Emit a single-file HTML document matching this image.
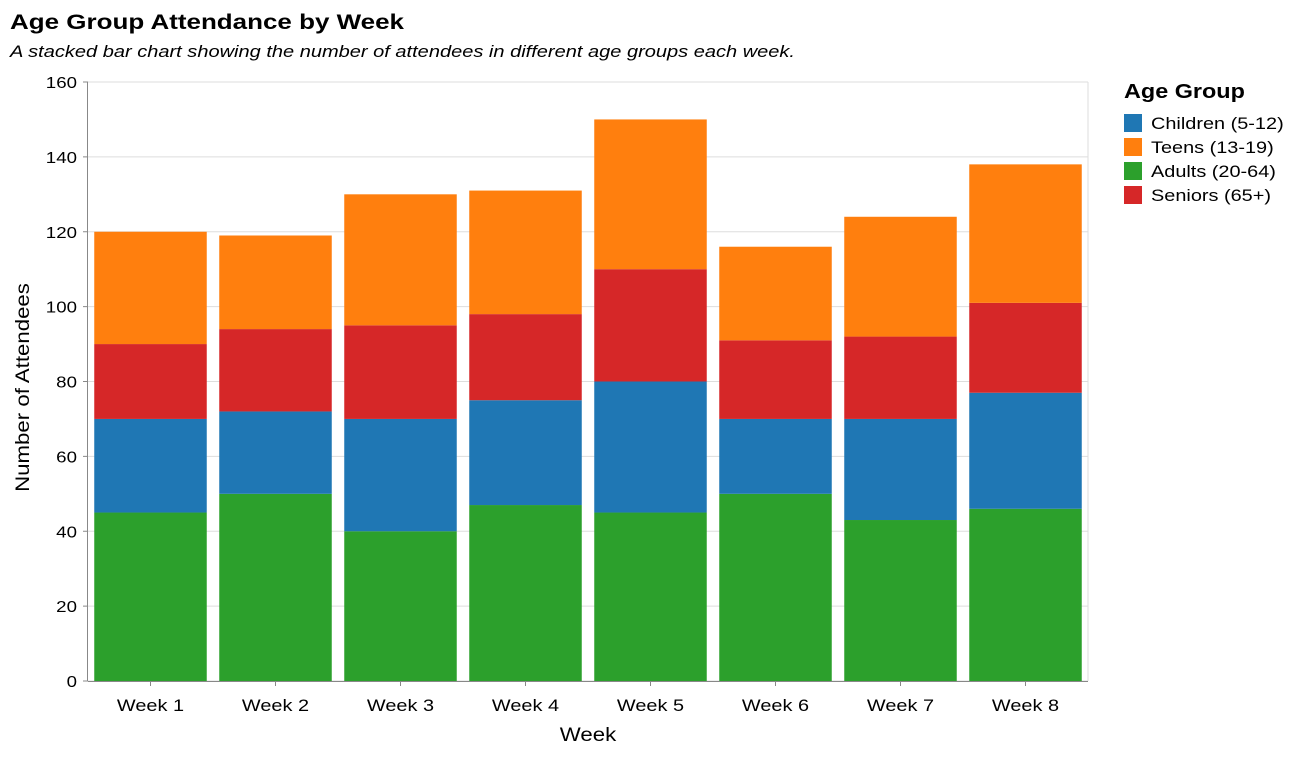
<!DOCTYPE html>
<html><head><meta charset="utf-8"><style>
body{margin:0;background:#fff;font-family:"Liberation Sans",sans-serif;}
</style></head><body>
<svg id="chart" width="1296" height="754" xmlns="http://www.w3.org/2000/svg" font-family="Liberation Sans, sans-serif">
<text x="10" y="29" font-size="21" font-weight="bold" fill="#000" data-fixed="394">Age Group Attendance by Week</text>
<text x="10" y="57" font-size="16.5" font-style="italic" fill="#000" data-fixed="785">A stacked bar chart showing the number of attendees in different age groups each week.</text>
<g id="grid"></g><g id="bars"></g><g id="axes"></g>
<g>
<text x="1124" y="98" font-size="20" font-weight="bold">Age Group</text>
<g id="legend"></g></g>
</svg>
<script>
const weeks=["Week 1","Week 2","Week 3","Week 4","Week 5","Week 6","Week 7","Week 8"];
const adults=[45,50,40,47,45,50,43,46];
const children=[25,22,30,28,35,20,27,31];
const seniors=[20,22,25,23,30,21,22,24];
const teens=[30,25,35,33,40,25,32,37];
const yTicks=[0,20,40,60,80,100,120,140,160];
const groups=["Children (5-12)","Teens (13-19)","Adults (20-64)","Seniors (65+)"];
const colors={"Children (5-12)":"#1f77b4","Teens (13-19)":"#ff7f0e","Adults (20-64)":"#2ca02c","Seniors (65+)":"#d62728"};
const NS="http://www.w3.org/2000/svg";
const X0=88,X1=1088,Y0=681,Y1=82,YMAX=160;
const band=(X1-X0)/weeks.length;
const y=v=>Y0-(v/YMAX)*(Y0-Y1);
const xb=i=>X0+i*band+band*0.05;
function mk(t,a,p){const e=document.createElementNS(NS,t);for(const k in a)e.setAttribute(k,a[k]);p.appendChild(e);return e;}
const grid=document.getElementById('grid'),bars=document.getElementById('bars'),axes=document.getElementById('axes'),leg=document.getElementById('legend');
yTicks.forEach(t=>{
 const l=mk('line',{x1:X0,x2:X1,y1:y(t),y2:y(t),stroke:'#ddd'},grid);
 
 
 const tk=mk('line',{x1:X0-5,x2:X0,y1:y(t),y2:y(t),stroke:'#888'},axes);
 
 
 const tx=mk('text',{x:X0-11,y:y(t)+6,'text-anchor':'end','font-size':16,fill:'#000'},axes);
 tx.textContent=t;
 
 
});
mk('line',{x1:X1,x2:X1,y1:Y1,y2:Y0,stroke:'#ddd'},grid);
const series=[["Adults (20-64)",adults],["Children (5-12)",children],["Seniors (65+)",seniors],["Teens (13-19)",teens]];
weeks.forEach((w,i)=>{
 let base=0;
 series.forEach(([g,arr])=>{
  const v=arr[i];
  const r=mk('rect',{x:xb(i),width:band*0.9,y:y(base+v),height:y(base)-y(base+v),fill:colors[g]},bars);
  
  
  base+=v;
 });
 const c=X0+i*band+band/2;
 const tk=mk('line',{x1:c,x2:c,y1:Y0,y2:Y0+5,stroke:'#888'},axes);
 
 
 const tx=mk('text',{x:c,y:Y0+30,'text-anchor':'middle','font-size':17},axes);
 tx.textContent=w;
 
 
});
const xa=mk('line',{x1:X0,x2:X1,y1:Y0+0.5,y2:Y0+0.5,stroke:'#888'},axes);


const ya=mk('line',{x1:X0-0.5,x2:X0-0.5,y1:Y1,y2:Y0,stroke:'#888'},axes);


const xt=mk('text',{x:(X0+X1)/2,y:741,'text-anchor':'middle','font-size':19},axes);
xt.textContent='Week';


const yt=mk('text',{x:0,y:0,'text-anchor':'middle','font-size':19,transform:`translate(29,${(Y0+Y1)/2+6}) rotate(-90)`},axes);
yt.textContent='Number of Attendees';


groups.forEach((g,i)=>{
 const yy=114+i*24;
 const r=mk('rect',{x:1124,y:yy,width:18,height:18,fill:colors[g]},leg);
 
 
 const t=mk('text',{x:1151,y:yy+15,'font-size':17},leg);
 t.textContent=g;
 
 
});
// widen glyphs to match the reference's wider typeface
document.querySelectorAll('svg text').forEach(t=>{
 const f=t.getAttribute('data-fixed');
 const w=f?+f:t.getComputedTextLength()*1.17;
 if(w>0){t.setAttribute('textLength',w.toFixed(1));t.setAttribute('lengthAdjust','spacingAndGlyphs');}
});
</script>
</body></html>
